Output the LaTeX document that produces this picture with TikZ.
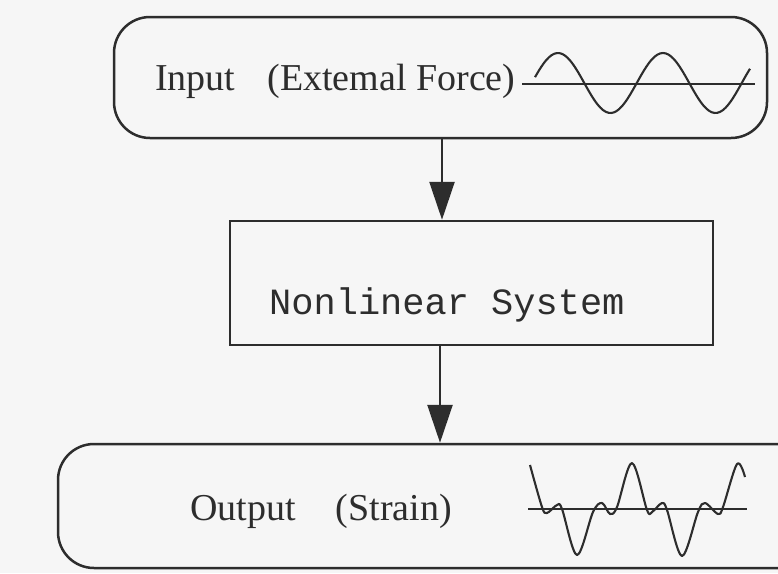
\documentclass[tikz,border=0pt]{standalone}
\usepackage{fontspec}
\setmainfont{Liberation Serif}
\newfontfamily\monofont{Liberation Mono}
\usetikzlibrary{arrows.meta}
\definecolor{ink}{RGB}{45,45,45}
\definecolor{paper}{RGB}{246,246,246}
\begin{document}
\begin{tikzpicture}[x=1pt,y=-1pt,
  box/.style={draw=ink,line width=2.5pt,inner sep=0pt},
  arr/.style={draw=ink,line width=2.5pt,-{Triangle[width=25pt,length=38pt]}},
  wave/.style={draw=ink,line width=2.1pt,line join=round},
  lbl/.style={text=ink,inner sep=0pt,font=\fontsize{38}{44}\selectfont},
  mlbl/.style={text=ink,inner sep=0pt,font=\monofont\fontsize{37}{44}\selectfont}]
\fill[paper] (0,0) rectangle (778,573);
\useasboundingbox (0,0) rectangle (778,573);
% boxes
\node[box,rounded corners=36pt,minimum width=653pt,minimum height=121pt] (top) at (440.5,77.5) {};
\node[box,minimum width=483pt,minimum height=124pt] (mid) at (471.5,283) {};
\node[box,rounded corners=36pt,minimum width=772pt,minimum height=124pt] (bot) at (444,506) {};
% labels
\node[lbl,anchor=base west] (inlbl) at (155,90) {Input\hspace{32pt}(Extemal Force)};
\node[mlbl,anchor=base west] (midlbl) at (269,314) {Nonlinear System};
\node[lbl,anchor=base west] (outlbl) at (190,520) {Output\hspace{40pt}(Strain)};
% arrows
\coordinate (ax1) at (442,0);
\coordinate (ax2) at (440,0);
\draw[arr] (ax1 |- top.south) -- (ax1 |- mid.north);
\draw[arr] (ax2 |- mid.south) -- (ax2 |- bot.north);
% input sine wave
\draw[wave] (522,84) -- (755,84);
\draw[wave] plot[domain=535:750,samples=80,smooth] (\x,{83-30*cos(3.4286*(\x-558))});
% output wave
\draw[wave] (528,509) -- (747,509);
\draw[wave] plot[smooth,tension=0.55] coordinates {
 (530,465) (542,507) (547,513) (557,505) (562,509) (577,555) (593,512)
 (602,503) (610,514) (617,507) (632,463) (647,510) (652,512) (662,503)
 (667,510) (682,556) (698,512) (705,503) (718,514) (723,507) (737,464) (745,477)};
\end{tikzpicture}
\end{document}
